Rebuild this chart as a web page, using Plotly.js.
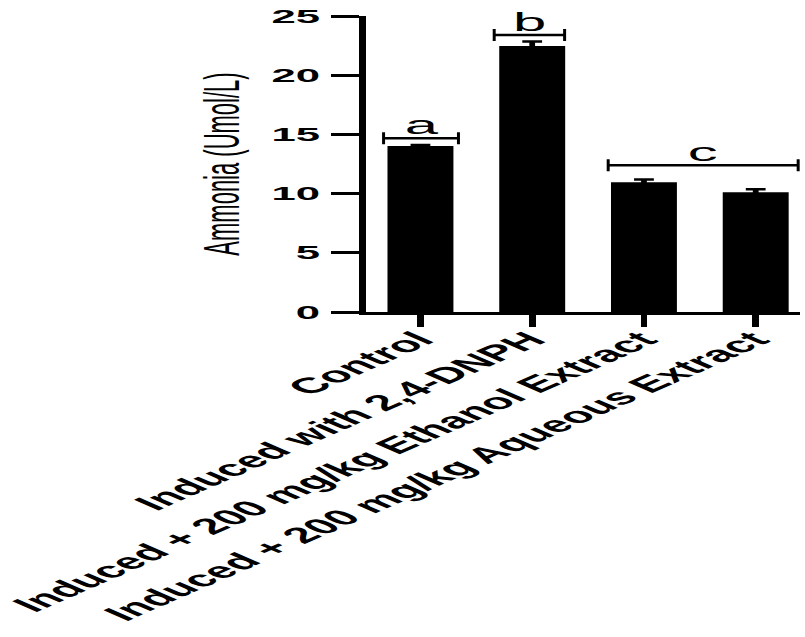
<!DOCTYPE html>
<html>
<head>
<meta charset="utf-8">
<script src="https://cdn.plot.ly/plotly-3.0.1.min.js"></script>
<style>
html, body { margin: 0; padding: 0; overflow: hidden; background: #fff; }
#chart { width: 350px; height: 637px; transform: scaleX(2.3); transform-origin: 0 0; }
</style>
</head>
<body>
<div id="chart"></div>
<script>
// Data
const categories = [
  'Control',
  'Induced with 2,4-DNPH',
  'Induced + 200 mg/kg Ethanol Extract',
  'Induced + 200 mg/kg Aqueous Extract'
];
const ammonia = [14.02, 22.47, 10.95, 10.11];
const ammoniaErr = [0.08, 0.37, 0.25, 0.25];
const yTicks = [0, 5, 10, 15, 20, 25];

// Significance groups
const groupLetters = ['a', 'b', 'c'];
const bracketStart = [-0.33, 0.66, 1.68];
const bracketEnd = [0.34, 1.29, 3.38];
const bracketY = [14.67, 23.4, 12.4];

const FONT = 'Liberation Sans, Arial, Helvetica, sans-serif';

const shapes = [];
const annotations = [];
groupLetters.forEach((g, i) => {
  shapes.push({type: 'line', xref: 'x', yref: 'y', x0: bracketStart[i], x1: bracketEnd[i],
               y0: bracketY[i], y1: bracketY[i], line: {color: '#000', width: 2.6}});
  [bracketStart[i], bracketEnd[i]].forEach(xe => {
    shapes.push({type: 'line', xref: 'x', yref: 'y', x0: xe, x1: xe,
                 ysizemode: 'pixel', yanchor: bracketY[i], y0: -6, y1: 6,
                 line: {color: '#000', width: 1.3}});
  });
  annotations.push({xref: 'x', yref: 'y', x: (bracketStart[i] + bracketEnd[i]) / 2, y: bracketY[i],
                    text: g, showarrow: false, yanchor: 'bottom', yshift: -4,
                    font: {family: FONT, size: 26, color: '#000'}});
});

const trace = {
  type: 'bar',
  x: categories,
  y: ammonia,
  width: 0.59,
  marker: {color: '#000', line: {width: 0}},
  error_y: {type: 'data', array: ammoniaErr, visible: true, color: '#000', thickness: 2.5, width: 4.3}
};

const layout = {
  width: 350, height: 637,
  margin: {l: 159, r: 2, t: 16, b: 325},
  paper_bgcolor: '#fff', plot_bgcolor: '#fff',
  showlegend: false,
  xaxis: {
    type: 'category', range: [-0.49, 3.40],
    showline: true, linecolor: '#000', linewidth: 3,
    ticks: 'outside', ticklen: 12, tickwidth: 3, tickcolor: '#000',
    tickangle: -45, showgrid: false, zeroline: false,
    ticklabelstandoff: -9, ticklabelshift: -1,
    tickfont: {family: FONT, size: 22, color: '#000', weight: 'bold'}
  },
  yaxis: {
    range: [0, 25], tickvals: yTicks, ticktext: yTicks.map(String),
    showline: true, linecolor: '#000', linewidth: 3,
    ticks: 'outside', ticklen: 12, tickwidth: 3, tickcolor: '#000',
    ticklabelstandoff: 1,
    showgrid: false, zeroline: false,
    tickfont: {family: FONT, size: 19, color: '#000', weight: 'bold'},
    title: {text: 'Ammonia (Umol/L)', standoff: 8, font: {family: FONT, size: 22, color: '#000'}}
  },
  shapes: shapes,
  annotations: annotations
};

Plotly.newPlot('chart', [trace], layout, {staticPlot: true, displayModeBar: false});
</script>
</body>
</html>
